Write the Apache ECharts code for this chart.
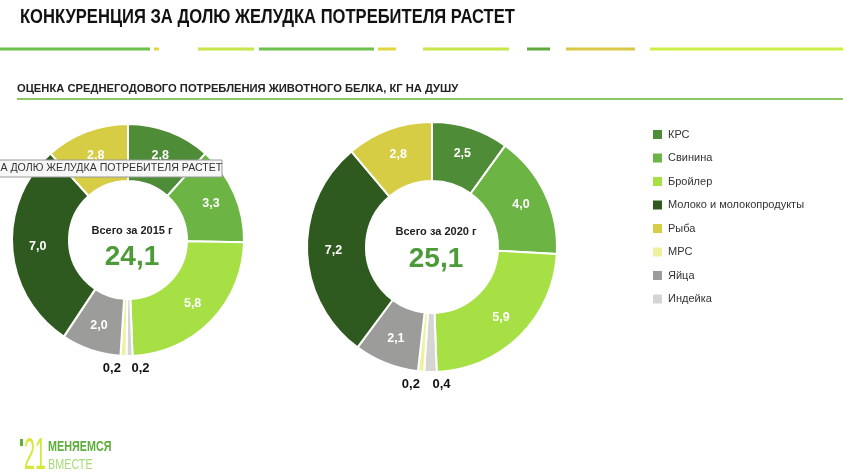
<!DOCTYPE html>
<html>
<head>
<meta charset="utf-8">
<script src="https://cdn.jsdelivr.net/npm/echarts@6/dist/echarts.min.js"></script>
<style>
  html, body { margin: 0; padding: 0; background: #fff; }
  #chart { width: 843px; height: 475px; }
</style>
</head>
<body>
<div id="chart"></div>
<script>
const categories = ['КРС', 'Свинина', 'Бройлер', 'Молоко и молокопродукты', 'Рыба', 'МРС', 'Яйца', 'Индейка'];
const colors = ['#4f8c37', '#6cb545', '#a6e045', '#2e5a1f', '#d6cd45', '#eef2a0', '#9c9c9a', '#d5d5d3'];
const values2015 = [2.8, 3.3, 5.8, 7.0, 2.8, 0.2, 2.0, 0.2];
const values2020 = [2.5, 4.0, 5.9, 7.2, 2.8, 0.2, 2.1, 0.4];
// order of slices clockwise from 12 o'clock
const sliceOrder = [0, 1, 2, 7, 5, 6, 3, 4];
const years = ['2015', '2020'];
const totals = ['24,1', '25,1'];
const smallSlices = ['МРС', 'Индейка'];

const fmt = v => v.toFixed(1).replace('.', ',');
const FONT = 'Liberation Sans, Arial, sans-serif';

function buildData(values) {
  return sliceOrder.map(i => {
    const item = {
      name: categories[i],
      value: values[i],
      itemStyle: { color: colors[i] }
    };
    if (smallSlices.includes(categories[i])) {
      item.label = { position: 'outside', color: '#111', fontSize: 13, distanceToLabelLine: 0 };
      item.labelLine = { show: false, length: 2, length2: 0 };
    }
    return item;
  });
}

function smallLabelLayout(p) {
  const name = categories[sliceOrder[p.dataIndex]];
  if (name === 'МРС') return { x: p.rect.x + p.rect.width / 2 - 12, y: p.labelRect.y + 17, align: 'center' };
  if (name === 'Индейка') return { x: p.rect.x + p.rect.width / 2 + 11, y: p.labelRect.y + 17, align: 'center' };
  return {};
}

const chart = echarts.init(document.getElementById('chart'), null, { renderer: 'canvas' });

const seg = (x1, x2, color) => ({
  type: 'line', shape: { x1: x1, y1: 49, x2: x2, y2: 49 },
  style: { stroke: color, lineWidth: 3 }
});

const pieBase = {
  type: 'pie',
  startAngle: 90,
  clockwise: true,
  avoidLabelOverlap: false,
  silent: true,
  itemStyle: { borderColor: '#fff', borderWidth: 2 },
  label: {
    position: 'inside',
    formatter: p => fmt(p.value),
    color: '#fff',
    fontSize: 12.5,
    fontWeight: 'bold',
    fontFamily: FONT
  },
  emphasis: { disabled: true }
};

chart.setOption({
  backgroundColor: '#fff',
  animation: false,
  title: [
    {
      text: 'ОЦЕНКА СРЕДНЕГОДОВОГО ПОТРЕБЛЕНИЯ ЖИВОТНОГО БЕЛКА, КГ НА ДУШУ',
      left: 12, top: 78,
      textStyle: { fontSize: 11.2, fontWeight: 'bold', color: '#222', fontFamily: FONT }
    },
    {
      text: 'Всего за ' + years[0] + ' г',
      left: 127, top: 220, textAlign: 'center',
      textStyle: { fontSize: 11, fontWeight: 'bold', color: '#222', fontFamily: FONT }
    },
    {
      text: totals[0],
      left: 127, top: 238, textAlign: 'center',
      textStyle: { fontSize: 28, fontWeight: 'bold', color: '#4c9a3a', fontFamily: FONT }
    },
    {
      text: 'Всего за ' + years[1] + ' г',
      left: 431, top: 221, textAlign: 'center',
      textStyle: { fontSize: 11, fontWeight: 'bold', color: '#222', fontFamily: FONT }
    },
    {
      text: totals[1],
      left: 431, top: 240, textAlign: 'center',
      textStyle: { fontSize: 28, fontWeight: 'bold', color: '#4c9a3a', fontFamily: FONT }
    }
  ],
  legend: {
    orient: 'vertical',
    left: 646, top: 123,
    itemWidth: 11, itemHeight: 11, itemGap: 10.5,
    icon: 'rect',
    selectedMode: false,
    data: categories,
    textStyle: { fontSize: 11, color: '#333', fontFamily: FONT }
  },
  graphic: [
    {
      type: 'text', x: 20, y: 8, scaleX: 0.85,
      style: { text: 'КОНКУРЕНЦИЯ ЗА ДОЛЮ ЖЕЛУДКА ПОТРЕБИТЕЛЯ РАСТЕТ', fill: '#111', fontSize: 19.5, fontWeight: 'bold', fontFamily: FONT }
    },
    seg(0, 150, '#6cc24c'), seg(154, 159, '#e2d640'), seg(198, 254, '#c6e64a'),
    seg(259, 374, '#6cc24c'), seg(378, 396, '#e2d640'), seg(423, 509, '#c6e64a'),
    seg(527, 550, '#5ea83c'), seg(566, 635, '#d8c846'), seg(650, 843, '#cdee48'),
    { type: 'line', shape: { x1: 17, y1: 99, x2: 843, y2: 99 }, style: { stroke: '#8cc864', lineWidth: 2 } },
    { type: 'rect', z: 100, zlevel: 1, shape: { x: -2, y: 160, width: 224, height: 17 }, style: { fill: '#f7f7f7', stroke: '#9a9a9a', lineWidth: 1 } },
    { type: 'text', z: 101, zlevel: 1, x: -6, y: 163, style: { text: 'ЗА ДОЛЮ ЖЕЛУДКА ПОТРЕБИТЕЛЯ РАСТЕТ', fill: '#333', fontSize: 10.6, fontFamily: FONT } },
    { type: 'rect', shape: { x: 20, y: 439, width: 3, height: 7 }, style: { fill: '#5fae3c' } },
    { type: 'text', x: 24, y: 435, scaleX: 0.45, style: { text: '21', fill: '#d6e83c', fontSize: 44, fontFamily: FONT } },
    { type: 'text', x: 48, y: 439, scaleX: 0.72, style: { text: 'МЕНЯЕМСЯ', fill: '#5fae3c', fontSize: 15, fontWeight: 'bold', fontFamily: FONT } },
    { type: 'text', x: 48, y: 457, scaleX: 0.72, style: { text: 'ВМЕСТЕ', fill: '#a6dc78', fontSize: 15, fontFamily: FONT } }
  ],
  series: [
    Object.assign({}, pieBase, {
      name: years[0],
      center: [128, 240],
      radius: [59, 116],
      labelLayout: smallLabelLayout,
      data: buildData(values2015)
    }),
    Object.assign({}, pieBase, {
      name: years[1],
      center: [432, 247],
      radius: [66, 125],
      labelLayout: smallLabelLayout,
      data: buildData(values2020)
    })
  ]
});
</script>
</body>
</html>
